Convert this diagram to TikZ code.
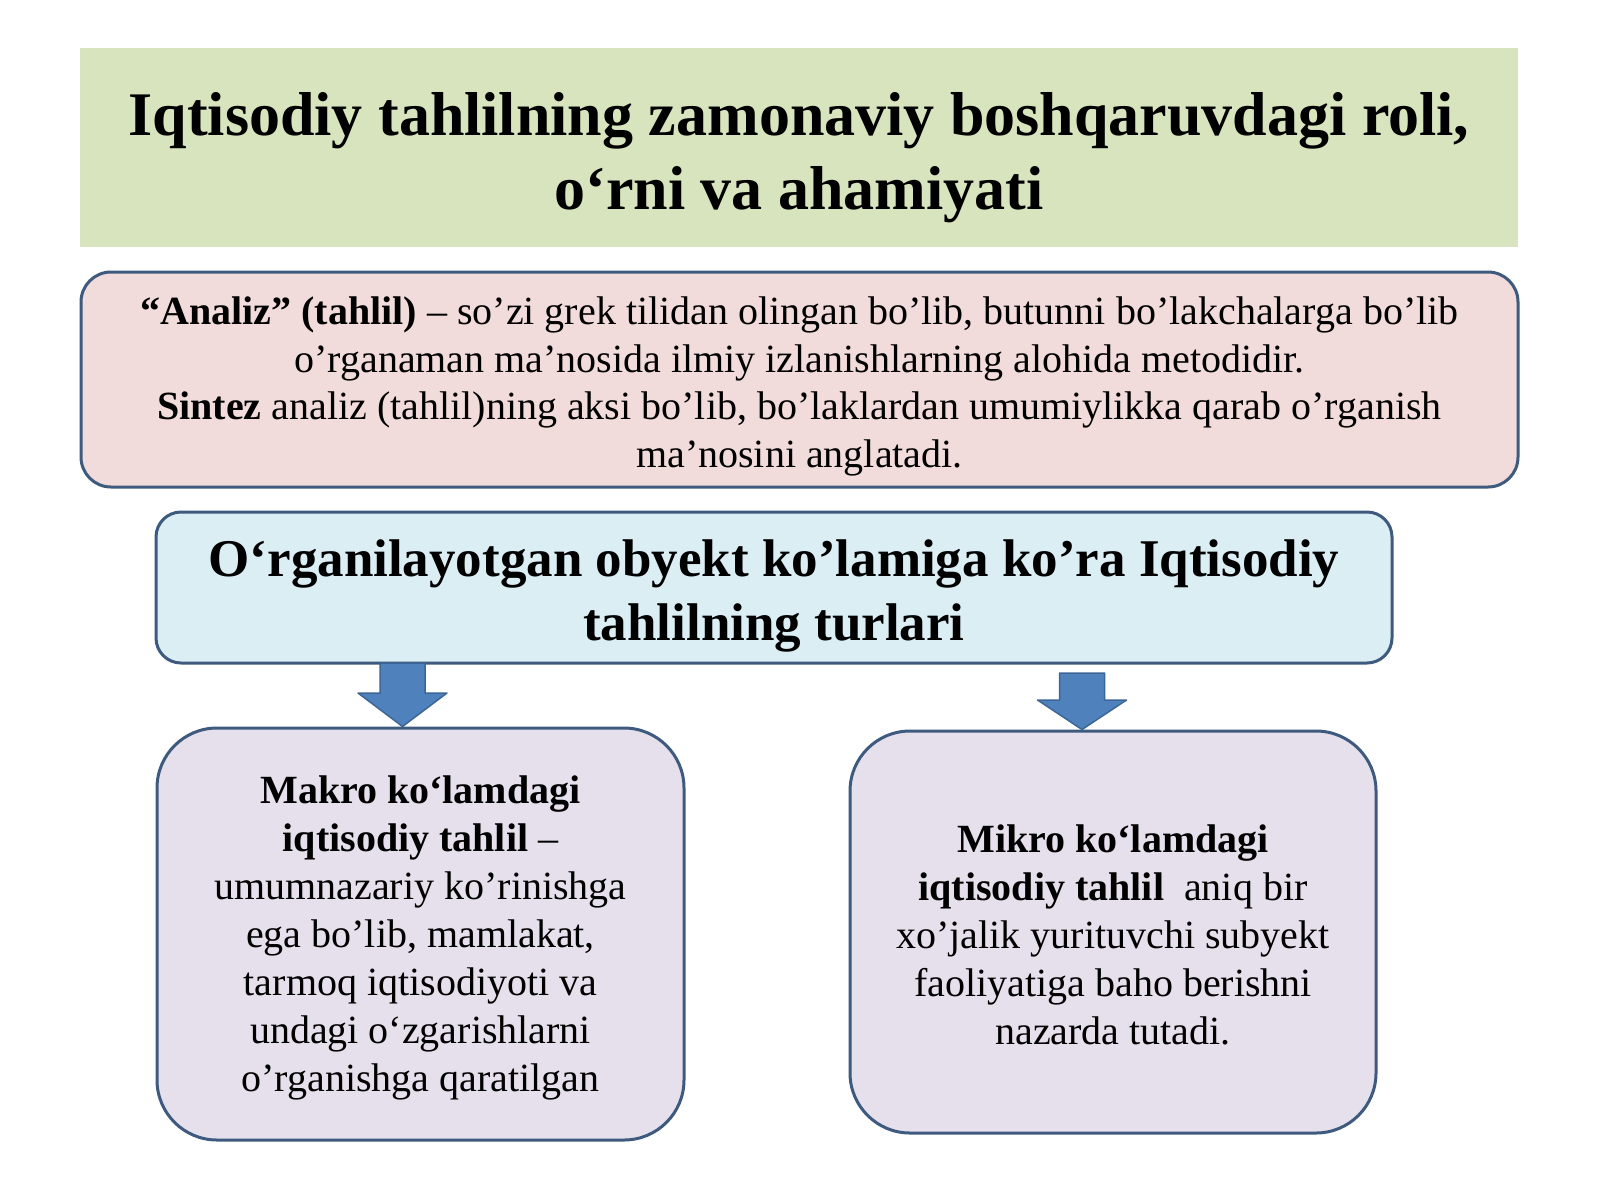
\documentclass[tikz,border=0pt]{standalone}
\usepackage{fontspec}
\setmainfont{Liberation Serif}
\usetikzlibrary{calc}
\definecolor{titlegreen}{HTML}{D7E4BD}
\definecolor{defpink}{HTML}{F2DCDB}
\definecolor{typeblue}{HTML}{DBEEF4}
\definecolor{kindlilac}{HTML}{E5E0EC}
\definecolor{edgeblue}{HTML}{3E5A7E}
\definecolor{arrowblue}{HTML}{4F81BD}
\definecolor{arrowedge}{HTML}{3C6696}
\newcommand{\boxlift}[1]{\rule{0pt}{#1pt}}
\tikzset{
	box/.style={draw=edgeblue,line width=3pt,align=center,inner sep=0pt},
	downarrow/.style={fill=arrowblue,draw=arrowedge,line width=1.5pt,line join=round}
}

\begin{document}
\begin{tikzpicture}[x=1pt,y=-1pt]
	\useasboundingbox (0,0) rectangle (1600,1200);
	\node[fill=titlegreen,minimum width=1438pt,minimum height=199pt,align=center,
	font=\fontsize{62}{74}\selectfont\bfseries] (title) at (799,147.5)
	{\boxlift{63}Iqtisodiy tahlilning zamonaviy boshqaruvdagi roli,\\ o‘rni va ahamiyati};
	\node[box,fill=defpink,rounded corners=30pt,minimum width=1437pt,minimum height=215pt,
	font=\fontsize{40}{47.5}\selectfont] (def) at (799.5,379.5)
	{\boxlift{42}{\bfseries “Analiz” (tahlil)} – so’zi grek tilidan olingan bo’lib, butunni bo’lakchalarga bo’lib\\
		o’rganaman ma’nosida ilmiy izlanishlarning alohida metodidir.\\
		{\bfseries Sintez} analiz (tahlil)ning aksi bo’lib, bo’laklardan umumiylikka qarab o’rganish\\
		ma’nosini anglatadi.};
	\node[box,fill=typeblue,rounded corners=25pt,minimum width=1236pt,minimum height=151pt,
	font=\fontsize{53}{64}\selectfont\bfseries] (kind) at (774,587.5)
	{\boxlift{53}O‘rganilayotgan obyekt ko’lamiga ko’ra Iqtisodiy\\ tahlilning turlari};
	\node[box,fill=kindlilac,rounded corners=60pt,minimum width=527pt,minimum height=412pt,
	font=\fontsize{40}{48}\selectfont] (makro) at (420.5,934)
	{\boxlift{35.5}{\bfseries Makro ko‘lamdagi}\\ {\bfseries iqtisodiy tahlil} –\\ umumnazariy ko’rinishga\\
		ega bo’lib, mamlakat,\\ tarmoq iqtisodiyoti va\\ undagi o‘zgarishlarni\\ o’rganishga qaratilgan};
	\node[box,fill=kindlilac,rounded corners=60pt,minimum width=526pt,minimum height=402pt,
	font=\fontsize{40}{48}\selectfont] (mikro) at (1113,932)
	{\boxlift{33.5}{\bfseries Mikro ko‘lamdagi}\\ {\bfseries iqtisodiy tahlil}\ \ aniq bir\\ xo’jalik yurituvchi subyekt\\
		faoliyatiga baho berishni\\ nazarda tutadi.};
	% block arrows
	\coordinate (s1) at (402.5,663);
	\coordinate (s2) at (1082,673);
	\foreach \S/\T/\H in {s1/makro/30,s2/mikro/27}
	{\draw[downarrow] (\S) ++(-22.5,0) -- ++(45,0) -- ++(0,\H) -- ++(22,0)
		-- (\S |- \T.north) -- ($(\S)+(-44.5,\H)$) -- ++(22,0) -- cycle;}
\end{tikzpicture}
\end{document}
